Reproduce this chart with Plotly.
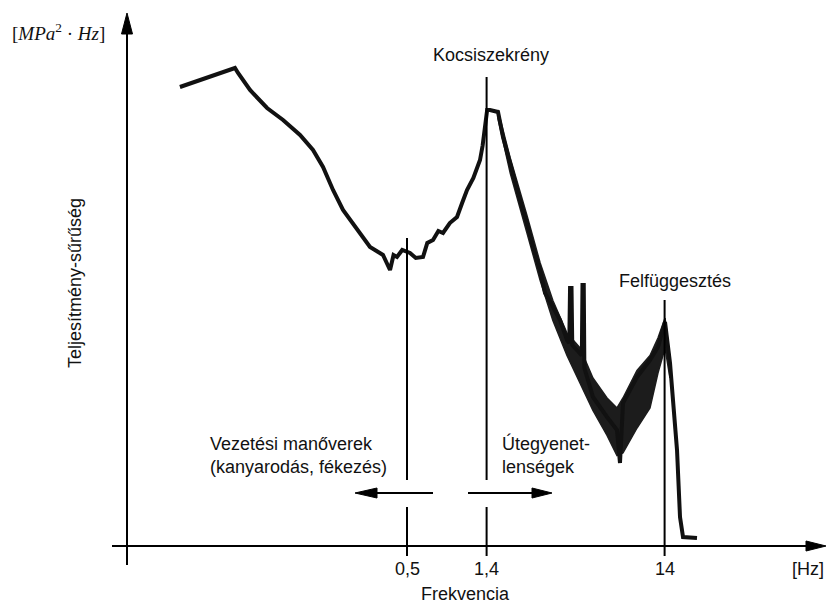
import math
import plotly.graph_objects as go

# ---- data (frequency in Hz, power spectral density in relative units) ----
freq = [0.0265, 0.0540, 0.0562, 0.0656, 0.0818, 0.1006, 0.1253, 0.1482, 0.1687, 0.1920,
        0.2185, 0.2618, 0.3098, 0.3666, 0.3850, 0.4014, 0.4200, 0.4393, 0.4700, 0.5197,
        0.5600, 0.6150, 0.6500, 0.7000, 0.7500, 0.7965, 0.8700, 0.9548, 1.0200, 1.0866,
        1.1800, 1.2856, 1.3300, 1.3716, 1.4100, 1.4632, 1.6227, 1.7310, 1.8955, 2.0749,
        2.2000, 2.3617, 2.5527, 2.7942, 2.9809, 3.3053, 3.6194, 3.9619, 4.0800, 4.1200,
        4.2000, 4.2400, 4.5092, 4.8000, 4.8400, 4.9200, 4.9600, 5.5438, 6.6468, 7.5634,
        7.8617, 8.1737, 9.7972, 11.593, 12.854, 14.075, 15.015, 15.610, 16.441, 17.090,
        17.770, 21.290]
psd = [92.2, 96.0, 95.0, 91.6, 88.0, 85.6, 82.6, 79.6, 76.2, 71.6,
       67.6, 63.6, 60.2, 58.6, 57.0, 55.6, 58.6, 58.2, 59.6, 59.0,
       58.0, 58.2, 61.0, 61.6, 63.4, 63.0, 65.0, 66.2, 69.0, 71.6,
       74.0, 77.6, 80.5, 84.2, 87.6, 87.6, 87.2, 82.2, 77.0, 71.6,
       68.5, 65.0, 60.2, 55.6, 51.0, 48.2, 45.6, 41.6, 41.0, 52.0,
       52.0, 40.6, 39.6, 38.5, 52.6, 52.6, 36.0, 30.2, 26.2, 23.6,
       17.0, 29.0, 34.2, 37.6, 40.2, 45.2, 37.0, 29.6, 19.6, 6.2,
       2.2, 2.0]

# noisy band (upper / lower envelope) after the body resonance
band_freq = [1.62, 1.90, 2.36, 2.80, 3.30, 3.96, 4.69, 5.54, 6.65, 7.56,
             8.17, 9.80, 11.59, 12.85, 14.08, 15.0]
band_upper = [87.6, 78.0, 66.5, 57.0, 49.5, 43.0, 40.0, 34.0, 30.0, 28.0,
              30.0, 35.5, 38.5, 42.0, 46.0, 38.0]
band_lower = [86.0, 75.0, 63.0, 53.5, 45.5, 38.5, 33.0, 27.5, 22.5, 18.5,
              19.0, 24.0, 28.0, 35.0, 40.0, 34.0]

mark_freqs = [0.5, 1.4, 14]
mark_labels = ["0,5", "1,4", "14"]

W, H = 826, 606
def PX(x):
    return x / W
def PY(y):
    return 1 - y / H

FONT = "Liberation Sans, Arial, sans-serif"
INK = "#111111"

fig = go.Figure()
fig.add_trace(go.Scatter(
    x=band_freq + band_freq[::-1], y=band_upper + band_lower[::-1],
    fill="toself", fillcolor="#1c1c1c", line=dict(color="#1c1c1c", width=1.5),
    mode="lines", hoverinfo="skip", showlegend=False))
fig.add_trace(go.Scatter(
    x=freq, y=psd, mode="lines", line=dict(color=INK, width=4),
    showlegend=False))

shapes = []
# axes
shapes.append(dict(type="line", xref="paper", yref="paper",
                   x0=PX(112), x1=PX(812), y0=PY(546), y1=PY(546),
                   line=dict(color="black", width=2)))
shapes.append(dict(type="path", xref="paper", yref="paper",
                   path=f"M {PX(826)},{PY(546)} L {PX(806)},{PY(541)} L {PX(806)},{PY(551)} Z",
                   fillcolor="black", line=dict(color="black", width=1)))
shapes.append(dict(type="line", xref="paper", yref="paper",
                   x0=PX(127), x1=PX(127), y0=PY(565), y1=PY(30),
                   line=dict(color="black", width=2)))
shapes.append(dict(type="path", xref="paper", yref="paper",
                   path=f"M {PX(127)},{PY(13)} L {PX(121.5)},{PY(34)} L {PX(132.5)},{PY(34)} Z",
                   fillcolor="black", line=dict(color="black", width=1)))

# marker lines
segments = {
    0.5: [(238, 480), (507, 556)],
    1.4: [(77, 480), (507, 556)],
    14: [(300, 556)],
}
for f in mark_freqs:
    for (ya, yb) in segments[f]:
        shapes.append(dict(type="line", xref="x", yref="paper",
                           x0=f, x1=f, y0=PY(ya), y1=PY(yb),
                           line=dict(color="black", width=2)))

# direction arrows
shapes.append(dict(type="line", xref="paper", yref="paper",
                   x0=PX(433), x1=PX(372), y0=PY(493), y1=PY(493),
                   line=dict(color="black", width=2)))
shapes.append(dict(type="path", xref="paper", yref="paper",
                   path=f"M {PX(355)},{PY(493)} L {PX(377)},{PY(488)} L {PX(377)},{PY(498)} Z",
                   fillcolor="black", line=dict(color="black", width=1)))
shapes.append(dict(type="line", xref="paper", yref="paper",
                   x0=PX(468), x1=PX(536), y0=PY(493), y1=PY(493),
                   line=dict(color="black", width=2)))
shapes.append(dict(type="path", xref="paper", yref="paper",
                   path=f"M {PX(552)},{PY(493)} L {PX(532)},{PY(488)} L {PX(532)},{PY(498)} Z",
                   fillcolor="black", line=dict(color="black", width=1)))

ann = []
def txt(text, x, y, xref="paper", xanchor="center", size=18, angle=0, family=FONT, align="center"):
    ann.append(dict(text=text, x=x, y=y, xref=xref, yref="paper", xanchor=xanchor,
                    yanchor="middle", showarrow=False, textangle=angle, align=align,
                    font=dict(family=family, size=size, color="#111")))

txt("Kocsiszekrény", PX(491), PY(55))
txt("Felfüggesztés", PX(675), PY(281))
txt("Vezetési manőverek<br>(kanyarodás, fékezés)", PX(208), PY(455), xanchor="left", align="left")
txt("Útegyenet-<br>lenségek", PX(500), PY(455), xanchor="left", align="left")
for f, lab in zip(mark_freqs, mark_labels):
    # annotations on a log axis take log10 of the value
    txt(lab, math.log10(f), PY(569), xref="x")
txt("[Hz]", PX(808), PY(569))
txt("Frekvencia", PX(465), PY(594))
txt("Teljesítmény-sűrűség", PX(75), PY(283), angle=-90)
txt("[<i>MPa</i><sup>2</sup> · <i>Hz</i>]", PX(58), PY(32),
    family="Liberation Serif, Times New Roman, serif", size=19)

fig.update_layout(
    width=W, height=H,
    margin=dict(l=0, r=0, t=0, b=0),
    paper_bgcolor="white", plot_bgcolor="white",
    xaxis=dict(type="log", range=[-2.5876, 2.0529], visible=False, fixedrange=True),
    yaxis=dict(range=[-11.6, 109.6], visible=False, fixedrange=True),
    shapes=shapes, annotations=ann, showlegend=False,
)

fig.write_html("out.html")
